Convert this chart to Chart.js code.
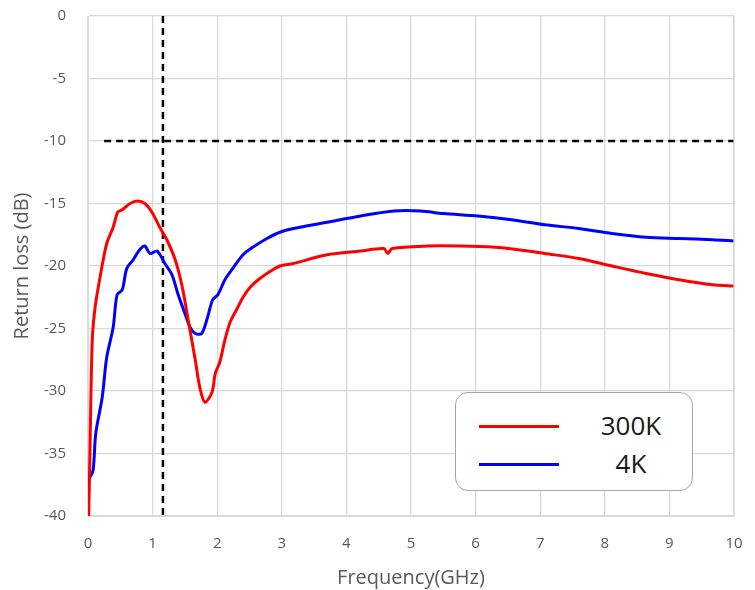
<!DOCTYPE html>
<html>
<head>
<meta charset="utf-8">
<script src="https://cdn.jsdelivr.net/npm/chart.js@4"></script>
<style>
  body { margin: 0; background: #fff; }
  #wrap { position: relative; width: 755px; height: 590px; }
  #legendBox {
    position: absolute; left: 455px; top: 392px; width: 236px; height: 97px;
    border: 1.5px solid #a6a6a6; border-radius: 13px; background: #fff;
    font-family: "Open Sans", Lato, sans-serif; color: #1a1a1a;
  }
  .row { position: absolute; left: 0; width: 100%; height: 30px; }
  .swatch { position: absolute; left: 23px; top: 15px; width: 80px; height: 3px; }
  .lab { position: absolute; left: 120px; width: 110px; text-align: center; font-size: 26px; line-height: 30px; }
</style>
</head>
<body>
<div id="wrap">
  <canvas id="chart" width="755" height="590"></canvas>
  <div id="legendBox">
    <div class="row" style="top:17px"><div class="swatch" style="background:#ff0000"></div><div class="lab">300K</div></div>
    <div class="row" style="top:55px"><div class="swatch" style="background:#0000ff"></div><div class="lab">4K</div></div>
  </div>
</div>
<script>
// Dados (frequência em GHz, perda de retorno em dB)
const freq300K = [0.01, 0.03, 0.05, 0.07, 0.11, 0.19, 0.29, 0.39, 0.46, 0.53, 0.65, 0.77, 0.88, 0.99, 1.11, 1.22, 1.35, 1.46, 1.55, 1.66, 1.73, 1.81, 1.92, 1.97, 2.04, 2.12, 2.2, 2.31, 2.4, 2.51, 2.66, 2.86, 2.97, 3.18, 3.7, 4.22, 4.58, 4.64, 4.71, 5.26, 5.77, 6.3, 6.66, 7.07, 7.6, 8.11, 8.64, 9.15, 9.67, 10];
const loss300K = [-40, -35, -29, -25.5, -23.3, -20.8, -18.2, -16.9, -15.7, -15.5, -15.0, -14.8, -15.0, -15.7, -16.9, -17.9, -19.5, -21.7, -24.3, -27.5, -29.7, -30.9, -30.1, -28.6, -27.7, -25.9, -24.5, -23.4, -22.5, -21.7, -21.0, -20.3, -20.0, -19.8, -19.1, -18.8, -18.6, -19.0, -18.6, -18.4, -18.4, -18.5, -18.7, -19.0, -19.4, -20.0, -20.6, -21.1, -21.5, -21.6];

const freq4K = [0.01, 0.03, 0.08, 0.12, 0.22, 0.29, 0.39, 0.45, 0.53, 0.6, 0.7, 0.8, 0.88, 0.96, 1.07, 1.19, 1.3, 1.39, 1.5, 1.58, 1.66, 1.76, 1.84, 1.93, 2.01, 2.12, 2.24, 2.4, 2.55, 2.77, 2.97, 3.18, 3.7, 4.22, 4.74, 5.15, 5.5, 6.04, 6.56, 7.07, 7.6, 8.11, 8.64, 9.15, 9.67, 10];
const loss4K = [-36.9, -36.9, -36.3, -33.4, -30.5, -27.3, -24.9, -22.3, -21.9, -20.2, -19.5, -18.7, -18.4, -19.0, -18.8, -19.8, -20.7, -22.2, -23.8, -24.9, -25.4, -25.4, -24.3, -22.7, -22.3, -21.1, -20.2, -19.1, -18.5, -17.8, -17.3, -17.0, -16.5, -16.0, -15.6, -15.6, -15.8, -16.0, -16.3, -16.7, -17.0, -17.4, -17.7, -17.8, -17.9, -18.0];

// Linhas tracejadas de referência
const refFreqMarker = 1.16;
const refLossLimit = -10;
const refLimitStart = 0.25;

const xTicks = [0, 1, 2, 3, 4, 5, 6, 7, 8, 9, 10];
const yTicks = [0, -5, -10, -15, -20, -25, -30, -35, -40];

function toPoints(xs, ys) {
    return xs.map((x, i) => ({ x: x, y: ys[i] }));
}

const fontFamily = '"Open Sans", Lato, sans-serif';
const ctx = document.getElementById('chart').getContext('2d');

new Chart(ctx, {
    type: 'line',
    data: {
        datasets: [
            {
                label: '300K',
                data: toPoints(freq300K, loss300K),
                borderColor: '#ff0000',
                borderWidth: 3,
                pointRadius: 0,
                tension: 0.3
            },
            {
                label: '4K',
                data: toPoints(freq4K, loss4K),
                borderColor: '#0000ff',
                borderWidth: 3,
                pointRadius: 0,
                tension: 0.3
            },
            {
                label: 'limite',
                data: [{ x: refLimitStart, y: refLossLimit }, { x: 10, y: refLossLimit }],
                borderColor: '#000',
                borderWidth: 2.5,
                borderDash: [7, 5],
                pointRadius: 0
            },
            {
                label: 'marcador',
                data: [{ x: refFreqMarker, y: 0 }, { x: refFreqMarker, y: -40 }],
                borderColor: '#000',
                borderWidth: 2.5,
                borderDash: [7, 5],
                pointRadius: 0
            }
        ]
    },
    options: {
        responsive: false,
        animation: false,
        layout: { padding: { left: 0, top: 16, right: 21, bottom: 0 } },
        plugins: {
            legend: { display: false },
            tooltip: { enabled: false }
        },
        scales: {
            x: {
                type: 'linear',
                min: 0,
                max: 10,
                afterFit: (axis) => { axis.height = 74; axis.paddingRight = 0; axis.paddingLeft = 0; },
                afterBuildTicks: (axis) => { axis.ticks = xTicks.map(v => ({ value: v })); },
                grid: { color: '#d9d9d9', lineWidth: 1.3, drawTicks: false },
                border: { color: '#d9d9d9' },
                ticks: { color: '#595959', padding: 19, font: { family: fontFamily, size: 15 } },
                title: {
                    display: true,
                    text: 'Frequency(GHz)',
                    color: '#595959',
                    padding: { top: 0, bottom: 0 },
                    font: { family: fontFamily, size: 20 }
                }
            },
            y: {
                type: 'linear',
                min: -40,
                max: 0,
                afterFit: (axis) => { axis.width = 88; axis.paddingTop = 0; axis.paddingBottom = 0; },
                afterBuildTicks: (axis) => { axis.ticks = yTicks.map(v => ({ value: v })); },
                grid: { color: '#d9d9d9', lineWidth: 1.3, drawTicks: false },
                border: { color: '#d9d9d9' },
                ticks: { color: '#595959', padding: 22, font: { family: fontFamily, size: 15 } },
                title: {
                    display: true,
                    text: 'Return loss (dB)',
                    color: '#595959',
                    padding: { top: 10, bottom: 0 },
                    font: { family: fontFamily, size: 20 }
                }
            }
        }
    },
    plugins: [{
        // borda direita da área do gráfico
        id: 'rightBorder',
        afterDraw(chart) {
            const a = chart.chartArea, c = chart.ctx;
            c.save();
            c.strokeStyle = '#d9d9d9';
            c.lineWidth = 1.3;
            c.beginPath();
            c.moveTo(a.right, a.top);
            c.lineTo(a.right, a.bottom);
            c.stroke();
            c.restore();
        }
    }]
});
</script>
</body>
</html>
